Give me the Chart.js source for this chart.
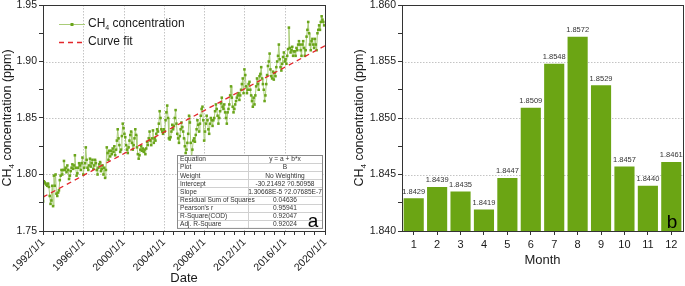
<!DOCTYPE html>
<html lang="en">
<head>
<meta charset="UTF-8">
<title>CH4 concentration</title>
<script src="https://cdn.jsdelivr.net/npm/chart.js"></script>
<style>
  body { margin: 0; background: #fff; }
  .panel { position: absolute; top: 0; height: 286px; }
  #panelA { left: 0; width: 340px; }
  #panelB { left: 340px; width: 345px; }
</style>
</head>
<body>
<div class="panel" id="panelA"><canvas id="lineCanvas" width="340" height="286"></canvas></div>
<div class="panel" id="panelB"><canvas id="barCanvas" width="345" height="286"></canvas></div>

<script>
// ---- data ----
const startYear = 1992;
// monthly CH4 (ppm), one row per year, Jan..Dec
const ch4Monthly = [
  1.776, 1.794, 1.793, 1.792, 1.791, 1.790, 1.792, 1.789, 1.781, 1.774, 1.777, 1.790, // 1992
  1.772, 1.799, 1.790, 1.800, 1.783, 1.781, 1.784, 1.786, 1.795, 1.799, 1.804, 1.800, // 1993
  1.804, 1.812, 1.804, 1.806, 1.802, 1.808, 1.804, 1.796, 1.799, 1.803, 1.806, 1.809, // 1994
  1.805, 1.808, 1.817, 1.806, 1.799, 1.801, 1.806, 1.810, 1.808, 1.804, 1.810, 1.815, // 1995
  1.800, 1.806, 1.810, 1.824, 1.813, 1.806, 1.804, 1.808, 1.814, 1.807, 1.810, 1.813, // 1996
  1.805, 1.808, 1.813, 1.810, 1.804, 1.800, 1.806, 1.809, 1.811, 1.803, 1.805, 1.808, // 1997
  1.800, 1.806, 1.797, 1.804, 1.824, 1.819, 1.813, 1.821, 1.816, 1.821, 1.818, 1.823, // 1998
  1.820, 1.825, 1.817, 1.822, 1.830, 1.840, 1.832, 1.826, 1.820, 1.822, 1.834, 1.845, // 1999
  1.841, 1.836, 1.833, 1.826, 1.822, 1.819, 1.824, 1.830, 1.835, 1.838, 1.828, 1.822, // 2000
  1.826, 1.832, 1.840, 1.835, 1.824, 1.818, 1.814, 1.817, 1.822, 1.825, 1.821, 1.823, // 2001
  1.820, 1.822, 1.818, 1.823, 1.829, 1.826, 1.832, 1.838, 1.830, 1.826, 1.832, 1.839, // 2002
  1.828, 1.832, 1.830, 1.836, 1.840, 1.838, 1.845, 1.856, 1.850, 1.840, 1.838, 1.836, // 2003
  1.840, 1.838, 1.848, 1.855, 1.861, 1.850, 1.832, 1.831, 1.833, 1.838, 1.844, 1.840, // 2004
  1.843, 1.850, 1.857, 1.845, 1.836, 1.832, 1.828, 1.834, 1.840, 1.846, 1.842, 1.838, // 2005
  1.832, 1.825, 1.819, 1.822, 1.828, 1.836, 1.852, 1.846, 1.828, 1.815, 1.822, 1.830, // 2006
  1.832, 1.829, 1.835, 1.840, 1.848, 1.844, 1.838, 1.845, 1.852, 1.858, 1.860, 1.848, // 2007
  1.830, 1.838, 1.845, 1.852, 1.848, 1.840, 1.836, 1.845, 1.850, 1.848, 1.843, 1.848, // 2008
  1.850, 1.856, 1.862, 1.858, 1.852, 1.845, 1.850, 1.856, 1.863, 1.868, 1.860, 1.858, // 2009
  1.862, 1.855, 1.850, 1.845, 1.855, 1.858, 1.862, 1.870, 1.878, 1.868, 1.860, 1.855, // 2010
  1.858, 1.862, 1.865, 1.868, 1.870, 1.872, 1.866, 1.870, 1.875, 1.880, 1.885, 1.872, // 2011
  1.893, 1.888, 1.878, 1.872, 1.875, 1.880, 1.882, 1.875, 1.870, 1.865, 1.860, 1.868, // 2012
  1.862, 1.870, 1.878, 1.885, 1.880, 1.875, 1.887, 1.889, 1.895, 1.885, 1.880, 1.875, // 2013
  1.865, 1.870, 1.880, 1.888, 1.896, 1.900, 1.907, 1.893, 1.887, 1.885, 1.891, 1.884, // 2014
  1.890, 1.887, 1.895, 1.900, 1.905, 1.915, 1.902, 1.895, 1.892, 1.898, 1.904, 1.908, // 2015
  1.900, 1.902, 1.898, 1.905, 1.911, 1.930, 1.912, 1.908, 1.910, 1.913, 1.905, 1.909, // 2016
  1.909, 1.905, 1.912, 1.910, 1.915, 1.918, 1.915, 1.910, 1.905, 1.915, 1.918, 1.912, // 2017
  1.905, 1.910, 1.922, 1.928, 1.935, 1.925, 1.915, 1.910, 1.918, 1.920, 1.915, 1.912, // 2018
  1.920, 1.915, 1.910, 1.925, 1.928, 1.932, 1.928, 1.935, 1.940, 1.937, 1.935, 1.932  // 2019
];
const fitYears = [1992, 2020];
const fitValues = [1.780, 1.914];
const fitTable = [
  ['Equation', 'y = a + b*x'],
  ['Plot', 'B'],
  ['Weight', 'No Weighting'],
  ['Intercept', '-30.21492 ?0.50958'],
  ['Slope', '1.30668E-5 ?2.07685E-7'],
  ['Residual Sum of Squares', '0.04636'],
  ["Pearson's r", '0.95941'],
  ['R-Square(COD)', '0.92047'],
  ['Adj. R-Square', '0.92024']
];
const lineTicksY = [1.80, 1.85, 1.90];
const lineTicksX = [1996, 2000, 2004, 2008, 2012, 2016];

const months = ['1', '2', '3', '4', '5', '6', '7', '8', '9', '10', '11', '12'];
const monthMeans = [1.8429, 1.8439, 1.8435, 1.8419, 1.8447, 1.8509, 1.8548, 1.8572, 1.8529, 1.8457, 1.8440, 1.8461];
const barTicksY = [1.845, 1.850, 1.855];

// ---- style ----
const FONT = '"Liberation Sans", Arial, sans-serif';
const TEXT = '#1a1a1a';
const AXIS = '#333';
const GREEN = '#6aa51a';
const GREEN_LINE = '#a9cc78';
const RED = '#e3262b';

Chart.defaults.font.family = FONT;
Chart.defaults.color = TEXT;

// CH4 with subscript 4, optionally rotated, align 'left' or 'center'
function drawCH4(ctx, rest, x, y, size, rotate, align) {
  ctx.save();
  ctx.translate(x, y);
  if (rotate) ctx.rotate(-Math.PI / 2);
  ctx.fillStyle = TEXT;
  ctx.textBaseline = 'middle';
  ctx.textAlign = 'left';
  const big = size + 'px ' + FONT, small = Math.round(size * 0.62) + 'px ' + FONT;
  ctx.font = big;
  const w1 = ctx.measureText('CH').width;
  const w3 = ctx.measureText(rest).width;
  ctx.font = small;
  const w2 = ctx.measureText('4').width;
  let sx = align === 'center' ? -(w1 + w2 + w3) / 2 : 0;
  ctx.font = big;
  ctx.fillText('CH', sx, 0);
  ctx.font = small;
  ctx.fillText('4', sx + w1, size * 0.3);
  ctx.font = big;
  ctx.fillText(rest, sx + w1 + w2, 0);
  ctx.restore();
}

function dottedGrid(chart, xVals, yVals) {
  const { ctx, chartArea: a, scales } = chart;
  ctx.save();
  ctx.strokeStyle = '#c4c4c4';
  ctx.lineWidth = 1;
  ctx.setLineDash([1.5, 1.5]);
  yVals.forEach(v => {
    const py = Math.round(scales.y.getPixelForValue(v)) + 0.5;
    ctx.beginPath(); ctx.moveTo(a.left, py); ctx.lineTo(a.right, py); ctx.stroke();
  });
  xVals.forEach(v => {
    const px = Math.round(scales.x.getPixelForValue(v)) + 0.5;
    ctx.beginPath(); ctx.moveTo(px, a.top); ctx.lineTo(px, a.bottom); ctx.stroke();
  });
  ctx.restore();
}

function drawFrame(chart) {
  const { ctx, chartArea: a } = chart;
  ctx.save();
  ctx.strokeStyle = AXIS;
  ctx.lineWidth = 1;
  ctx.strokeRect(Math.round(a.left) + 0.5, Math.round(a.top) + 0.5,
                 Math.round(a.right - a.left), Math.round(a.bottom - a.top));
  ctx.restore();
}

// ---- panel a ----
const ch4Points = ch4Monthly.map((v, i) => ({ x: startYear + i / 12, y: v }));
const fitPoints = fitYears.map((yr, i) => ({ x: yr, y: fitValues[i] }));

const panelAPlugin = {
  id: 'panelA',
  beforeDatasetsDraw(chart) { dottedGrid(chart, lineTicksX, lineTicksY); },
  afterDraw(chart) {
    const { ctx, chartArea: a } = chart;
    drawFrame(chart);

    // legend
    const lx = a.left + 16, ly1 = a.top + 19, ly2 = a.top + 37;
    ctx.save();
    ctx.strokeStyle = GREEN_LINE; ctx.lineWidth = 1;
    ctx.beginPath(); ctx.moveTo(lx, ly1 + 0.5); ctx.lineTo(lx + 26, ly1 + 0.5); ctx.stroke();
    ctx.fillStyle = GREEN; ctx.fillRect(lx + 11.5, ly1 - 1, 3, 3);
    ctx.strokeStyle = RED; ctx.lineWidth = 1.3; ctx.setLineDash([5, 4]);
    ctx.beginPath(); ctx.moveTo(lx, ly2 + 0.5); ctx.lineTo(lx + 26, ly2 + 0.5); ctx.stroke();
    ctx.restore();
    drawCH4(ctx, ' concentration', lx + 29, ly1, 12, false, 'left');
    ctx.save();
    ctx.fillStyle = TEXT; ctx.font = '12px ' + FONT;
    ctx.textBaseline = 'middle'; ctx.textAlign = 'left';
    ctx.fillText('Curve fit', lx + 29, ly2);
    ctx.restore();

    // fit statistics table
    const tw = 145, rh = 8.1, th = rh * fitTable.length;
    const tx = Math.round(a.right - 3 - tw), ty = Math.round(a.bottom - 3 - th);
    const split = tx + 71;
    ctx.save();
    ctx.fillStyle = '#fff';
    ctx.fillRect(tx, ty, tw, th);
    ctx.strokeStyle = '#d0d0d0'; ctx.lineWidth = 1;
    for (let i = 1; i < fitTable.length; i++) {
      const yy = Math.round(ty + i * rh) + 0.5;
      ctx.beginPath(); ctx.moveTo(tx, yy); ctx.lineTo(tx + tw, yy); ctx.stroke();
    }
    ctx.beginPath(); ctx.moveTo(split + 0.5, ty); ctx.lineTo(split + 0.5, ty + th); ctx.stroke();
    ctx.strokeStyle = '#8a8a8a';
    ctx.strokeRect(tx + 0.5, ty + 0.5, tw, th);
    ctx.font = '6.6px ' + FONT;
    ctx.fillStyle = '#333';
    ctx.textBaseline = 'middle';
    fitTable.forEach((row, i) => {
      const cy = ty + i * rh + rh / 2 + 0.5;
      ctx.textAlign = 'left';
      ctx.fillText(row[0], tx + 3, cy);
      ctx.textAlign = 'center';
      ctx.fillText(row[1], (split + tx + tw) / 2, cy);
    });
    ctx.restore();

    // panel letter
    ctx.save();
    ctx.fillStyle = '#000'; ctx.font = '19px ' + FONT;
    ctx.textAlign = 'center'; ctx.textBaseline = 'alphabetic';
    ctx.fillText('a', a.right - 12, a.bottom - 4);
    ctx.restore();

    // axis titles
    drawCH4(ctx, ' concentration (ppm)', 8, (a.top + a.bottom) / 2, 12.5, true, 'center');
    ctx.save();
    ctx.fillStyle = TEXT; ctx.font = '13px ' + FONT;
    ctx.textAlign = 'center'; ctx.textBaseline = 'middle';
    ctx.fillText('Date', (a.left + a.right) / 2, 278);
    ctx.restore();
  }
};

new Chart(document.getElementById('lineCanvas'), {
  type: 'line',
  data: {
    datasets: [
      {
        label: 'Curve fit',
        data: fitPoints,
        borderColor: RED,
        borderWidth: 1.3,
        borderDash: [5, 4],
        pointRadius: 0,
        fill: false,
        order: 0
      },
      {
        label: 'CH4 concentration',
        data: ch4Points,
        borderColor: GREEN_LINE,
        borderWidth: 1,
        pointStyle: 'rect',
        pointRadius: 1.8,
        pointBorderWidth: 0,
        pointBackgroundColor: GREEN,
        fill: false,
        tension: 0,
        order: 1
      }
    ]
  },
  options: {
    responsive: false,
    animation: false,
    layout: { padding: { top: 5, right: 15, left: 0, bottom: 0 } },
    plugins: { legend: { display: false }, tooltip: { enabled: false } },
    scales: {
      x: {
        type: 'linear',
        min: 1992, max: 2020,
        grid: { drawOnChartArea: false, drawTicks: true, tickLength: 4, tickColor: AXIS },
        border: { color: AXIS },
        ticks: {
          stepSize: 1, autoSkip: false, minRotation: 45, maxRotation: 45, padding: 1,
          font: { size: 10.5 }, color: TEXT,
          callback: v => (v % 4 === 0 ? v + '/1/1' : '')
        },
        afterFit: s => { s.height = 55; s.paddingLeft = 0; s.paddingRight = 0; }
      },
      y: {
        min: 1.75, max: 1.95,
        grid: { drawOnChartArea: false, drawTicks: true, tickLength: 4, tickColor: AXIS },
        border: { color: AXIS },
        ticks: {
          stepSize: 0.025, autoSkip: false, padding: 2,
          font: { size: 10.5 }, color: TEXT,
          callback: v => (Math.round(v * 1000) % 50 === 0 ? v.toFixed(2) : '')
        },
        afterFit: s => { s.width = 43; s.paddingTop = 0; s.paddingBottom = 0; }
      }
    }
  },
  plugins: [panelAPlugin]
});

// ---- panel b ----
const panelBPlugin = {
  id: 'panelB',
  beforeDatasetsDraw(chart) {
    const { ctx, chartArea: a, scales } = chart;
    ctx.save();
    ctx.strokeStyle = '#c4c4c4'; ctx.lineWidth = 1; ctx.setLineDash([1.5, 1.5]);
    barTicksY.forEach(v => {
      const py = Math.round(scales.y.getPixelForValue(v)) + 0.5;
      ctx.beginPath(); ctx.moveTo(a.left, py); ctx.lineTo(a.right, py); ctx.stroke();
    });
    ctx.restore();
  },
  afterDraw(chart) {
    const { ctx, chartArea: a } = chart;
    drawFrame(chart);
    const meta = chart.getDatasetMeta(0);
    ctx.save();
    ctx.fillStyle = '#333'; ctx.font = '7.5px ' + FONT;
    ctx.textAlign = 'center'; ctx.textBaseline = 'bottom';
    meta.data.forEach((bar, i) => ctx.fillText(monthMeans[i].toFixed(4), bar.x, bar.y - 3));
    ctx.fillStyle = '#000'; ctx.font = '19px ' + FONT; ctx.textBaseline = 'alphabetic';
    ctx.fillText('b', a.right - 11, a.bottom - 3);
    ctx.fillStyle = TEXT; ctx.font = '13px ' + FONT; ctx.textBaseline = 'middle';
    ctx.fillText('Month', (a.left + a.right) / 2, 260);
    ctx.restore();
    drawCH4(ctx, ' concentration (ppm)', 20, (a.top + a.bottom) / 2, 12.5, true, 'center');
  }
};

new Chart(document.getElementById('barCanvas'), {
  type: 'bar',
  data: {
    labels: months,
    datasets: [{
      label: 'CH4 concentration',
      data: monthMeans,
      backgroundColor: '#6ba514',
      borderWidth: 0,
      barPercentage: 0.86,
      categoryPercentage: 1.0
    }]
  },
  options: {
    responsive: false,
    animation: false,
    layout: { padding: { top: 5, right: 2, left: 0, bottom: 0 } },
    plugins: { legend: { display: false }, tooltip: { enabled: false } },
    scales: {
      x: {
        grid: { drawOnChartArea: false, drawTicks: true, tickLength: 4, tickColor: AXIS, offset: false },
        border: { color: AXIS },
        ticks: { font: { size: 11 }, color: TEXT, padding: 3 },
        afterFit: s => { s.height = 55; s.paddingLeft = 0; s.paddingRight = 0; }
      },
      y: {
        min: 1.84, max: 1.86,
        grid: { drawOnChartArea: false, drawTicks: true, tickLength: 4, tickColor: AXIS },
        border: { color: AXIS },
        ticks: {
          stepSize: 0.0025, autoSkip: false, padding: 2,
          font: { size: 10.5 }, color: TEXT,
          callback: v => (Math.round(v * 10000) % 50 === 0 ? v.toFixed(3) : '')
        },
        afterFit: s => { s.width = 62; s.paddingTop = 0; s.paddingBottom = 0; }
      }
    }
  },
  plugins: [panelBPlugin]
});
</script>
</body>
</html>
